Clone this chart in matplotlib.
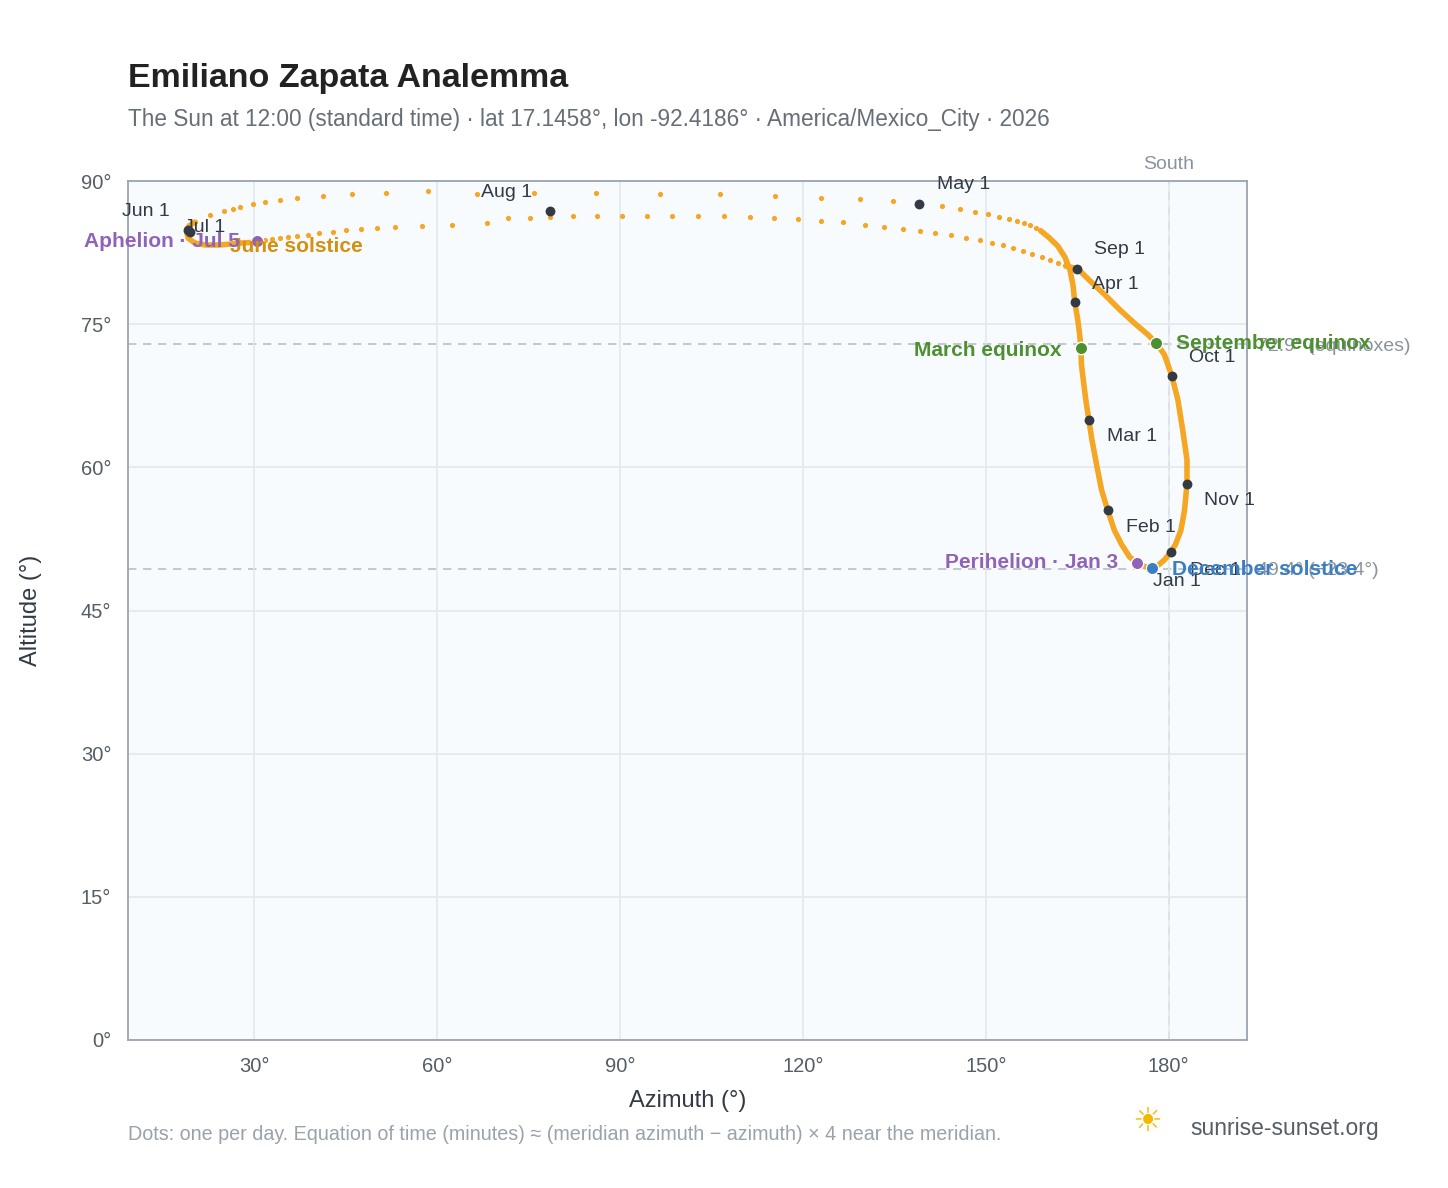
import matplotlib.pyplot as plt

plt.rcParams['font.family'] = ['Liberation Sans', 'DejaVu Sans']

# June loop -> upper arc (May back towards June, read right-to-left)
upper_az = [159.0, 158.2, 157.2, 156.2, 155.1, 153.8, 152.1, 150.3, 148.2, 145.7, 142.8, 139.0,
            134.8, 129.3, 123.0, 115.4, 106.4, 96.6, 86.1, 75.9, 66.6, 58.5, 51.6, 46.1, 41.3,
            37.0, 34.3, 31.8, 29.8, 27.7, 26.6, 25.1, 22.8, 20.3]
upper_alt = [84.8, 85.1, 85.4, 85.6, 85.8, 86.0, 86.2, 86.5, 86.8, 87.1, 87.4, 87.6,
             87.9, 88.1, 88.2, 88.4, 88.6, 88.6, 88.7, 88.7, 88.6, 89.0, 88.7, 88.6, 88.4,
             88.2, 88.0, 87.8, 87.6, 87.3, 87.1, 86.9, 86.4, 85.7]
loop_az = [20.3, 19.3, 18.9, 19.2, 20.3, 22.0, 24.4, 27.7, 30.5]
loop_alt = [85.7, 85.3, 84.7, 84.0, 83.5, 83.3, 83.3, 83.5, 83.6]
lower_az = [30.5, 31.8, 33.0, 34.3, 35.6, 37.0, 38.9, 40.7, 43.0, 45.1, 47.5, 50.2, 53.1, 57.5,
            62.5, 68.2, 71.6, 75.2, 78.5, 82.3, 86.2, 90.3, 94.4, 98.5, 102.8, 107.0, 111.3,
            115.2, 119.2, 123.0, 126.6, 130.2, 133.3, 136.4, 139.2, 141.6, 144.3, 146.7, 149.0,
            151.0, 152.8, 154.4, 156.1, 157.5, 159.2, 160.5, 161.8, 163.1]
lower_alt = [83.6, 83.8, 83.9, 84.0, 84.1, 84.2, 84.3, 84.6, 84.7, 84.9, 85.0, 85.1, 85.2, 85.3,
             85.4, 85.6, 86.1, 86.1, 86.2, 86.3, 86.3, 86.3, 86.3, 86.3, 86.3, 86.3, 86.2,
             86.1, 86.0, 85.8, 85.7, 85.4, 85.2, 85.0, 84.8, 84.6, 84.3, 84.0, 83.8,
             83.5, 83.3, 83.0, 82.7, 82.4, 82.0, 81.7, 81.4, 81.1]
# dense part of the curve (Sep -> Dec -> Apr -> May)
dense_az = [163.1, 165.1, 167.0, 169.5, 172.0, 174.4, 176.6, 178.0, 179.3, 180.5, 181.5, 182.3,
            183.0, 183.0, 182.6, 182.0, 181.1, 180.3, 179.3, 178.2, 177.2, 176.1, 174.8, 173.6,
            172.3, 171.1, 170.0, 169.0, 168.2, 167.4, 166.9, 166.4, 166.1, 165.7, 165.6, 165.4,
            165.1, 164.6, 164.3, 163.8, 163.0, 161.8, 160.5, 159.0]
dense_alt = [81.1, 80.8, 79.6, 78.1, 76.5, 75.1, 73.9, 73.0, 71.8, 69.6, 67.1, 63.9,
             60.8, 58.3, 55.5, 53.4, 51.9, 51.1, 50.3, 49.7, 49.5, 49.6, 50.0, 50.6,
             51.9, 53.4, 55.5, 57.6, 60.2, 62.9, 65.0, 67.1, 68.6, 70.7, 72.5, 73.9,
             75.4, 77.3, 79.1, 80.7, 82.0, 83.2, 84.0, 84.8]

month_names = ['Jan 1', 'Feb 1', 'Mar 1', 'Apr 1', 'May 1', 'Jun 1', 'Jul 1', 'Aug 1',
               'Sep 1', 'Oct 1', 'Nov 1', 'Dec 1']
month_az = [177.0, 170.0, 166.9, 164.6, 139.0, 19.2, 19.5, 78.5, 164.9, 180.5, 183.0, 180.3]
month_alt = [49.5, 55.5, 65.0, 77.3, 87.6, 84.9, 84.7, 86.9, 80.8, 69.6, 58.3, 51.1]
# label offsets in pixels
month_off = [(3, -14), (18, -17), (18, -17), (17, 18), (18, 19), (-66, 18), (-6, 4),
             (-69, 18), (17, 19), (17, 18), (17, -17), (19, -18)]

events = [('March equinox', 165.6, 72.5, '#4e8f2f', (-19, -2), 'right'),
          ('September equinox', 178.0, 73.0, '#4e8f2f', (20, 0), 'left'),
          ('June solstice', 30.5, 83.6, '#d4900f', (-27, -4), 'left'),
          ('December solstice', 177.2, 49.5, '#3a7ec4', (20, -2), 'left'),
          ('Aphelion · Jul 5', 30.5, 83.7, '#8f63b8', (-17, 0), 'right'),
          ('Perihelion · Jan 3', 174.8, 50.0, '#8f63b8', (-19, 0), 'right')]

ref_alt = [72.9, 49.4]
ref_text = ['72.9° (equinoxes)', '49.4° (−23.4°)']

orange = '#f5a623'
fig = plt.figure(figsize=(14.48, 11.88), dpi=100)
ax = fig.add_axes([0.0884, 0.1246, 0.7726, 0.723])
ax.set_facecolor('#f8fbfe')
ax.set_xlim(9.3, 192.8)
ax.set_ylim(0, 90)
ax.set_xticks(range(30, 181, 30))
ax.set_xticklabels([f'{v}°' for v in range(30, 181, 30)])
ax.set_yticks(range(0, 91, 15))
ax.set_yticklabels([f'{v}°' for v in range(0, 91, 15)])
ax.grid(True, color='#e3e8ee', linewidth=1.2)
ax.tick_params(colors='#555d66', labelsize=14.5, length=0, pad=12)
for s in ax.spines.values():
    s.set_color('#9aa5b1')
    s.set_linewidth(1.3)

for a, t in zip(ref_alt, ref_text):
    ax.axhline(a, color='#b8c0ca', linestyle=(0, (5, 4)), linewidth=1.2, zorder=1)
    ax.annotate(t, (1, a), xycoords=('axes fraction', 'data'), xytext=(10, -2),
                textcoords='offset pixels', color='#8a939d', fontsize=14, va='center')
ax.axvline(180, color='#b8c0ca', linestyle=(0, (5, 4)), linewidth=1.2, zorder=1)
ax.annotate('South', (180, 90), xytext=(0, 12), textcoords='offset pixels', ha='center',
            color='#8a939d', fontsize=14)

ax.plot(dense_az, dense_alt, color=orange, linewidth=4, solid_capstyle='round', zorder=3)
ax.plot(loop_az, loop_alt, color=orange, linewidth=4, solid_capstyle='round', zorder=3)
ax.scatter(upper_az + lower_az, upper_alt + lower_alt, s=14, color=orange, zorder=3, linewidths=0)

ax.scatter(month_az, month_alt, s=50, color='#333a44', zorder=5, linewidths=0)
for n, x, y, off in zip(month_names, month_az, month_alt, month_off):
    ax.annotate(n, (x, y), xytext=off, textcoords='offset pixels', fontsize=14,
                color='#333a44', va='center', zorder=6)
for n, x, y, c, off, ha in events:
    ax.scatter([x], [y], s=80, color=c, zorder=6, edgecolors='white', linewidths=1)
    ax.annotate(n, (x, y), xytext=off, textcoords='offset pixels', fontsize=15,
                color=c, fontweight='bold', va='center', ha=ha, zorder=7)

ax.set_xlabel('Azimuth (°)', fontsize=17, color='#333a44', labelpad=10)
ax.set_ylabel('Altitude (°)', fontsize=17, color='#333a44', labelpad=28)

fig.text(0.0884, 0.927, 'Emiliano Zapata Analemma', fontsize=24.5, fontweight='bold', color='#222222')
fig.text(0.0884, 0.894, 'The Sun at 12:00 (standard time) · lat 17.1458°, lon -92.4186° · '
         'America/Mexico_City · 2026', fontsize=16.3, color='#666e78')
fig.text(0.0884, 0.04, 'Dots: one per day. Equation of time (minutes) ≈ (meridian azimuth − '
         'azimuth) × 4 near the meridian.', fontsize=14.2, color='#9aa2ab')
fig.text(0.822, 0.045, 'sunrise-sunset.org', fontsize=16.5, color='#555d66')
fig.text(0.792, 0.054, '☀', fontsize=24, color='#f5b800', ha='center', va='center')

fig.savefig('out.png')
